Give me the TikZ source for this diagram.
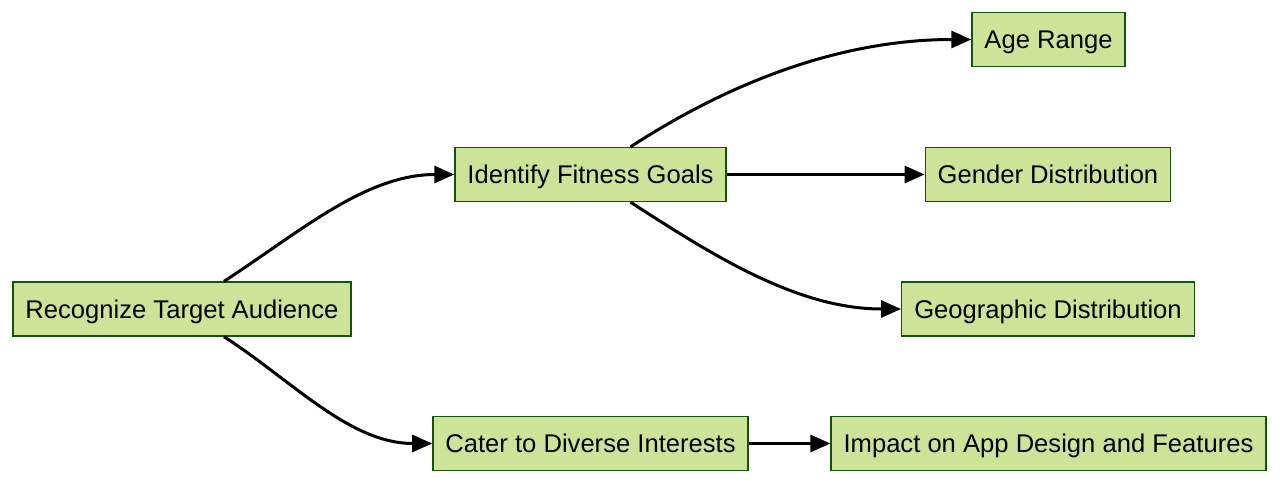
\documentclass[tikz,border=0pt]{standalone}
\usepackage{fontspec}
\setmainfont{Liberation Sans}
\usetikzlibrary{arrows.meta, calc, positioning}
\definecolor{boxfill}{HTML}{CDE498}
\definecolor{boxline}{HTML}{13540C}
\begin{document}
\begin{tikzpicture}[
    x=1pt, y=-1pt,
    topic/.style={draw=boxline, fill=boxfill, line width=1.3pt,
        minimum height=54pt, inner xsep=12.5pt, text height=21pt, text depth=3pt,
        font=\fontsize{25.6}{30}\selectfont},
    arrow/.style={-{Triangle[length=20pt,width=17pt]}, line width=3pt, black}
]
\useasboundingbox (0,0) rectangle (1280,484);
\node[topic] (audience) at (182,309) {Recognize Target Audience};
\node[topic] (goals) at (590.5,174.5) {Identify Fitness Goals};
\node[topic] (interests) at (590.5,443.5) {Cater to Diverse Interests};
\node[topic] (age) at (1048.5,39.5) {Age Range};
\node[topic] (gender) at (1048,174.5) {Gender Distribution};
\node[topic] (geo) at (1048,309) {Geographic Distribution};
\node[topic] (impact) at (1048.5,443.5) {Impact on App Design and Features};
\draw[arrow] ($(audience.north)+(42,0)$) to[out=33,in=180,looseness=0.9] (goals.west);
\draw[arrow] ($(audience.south)+(42,0)$) to[out=-33,in=180,looseness=0.9] (interests.west);
\draw[arrow] ($(goals.north)+(40,0)$) to[out=33,in=180,looseness=0.9] (age.west);
\draw[arrow] (goals) -- (gender);
\draw[arrow] ($(goals.south)+(40,0)$) to[out=-33,in=180,looseness=0.9] (geo.west);
\draw[arrow] (interests) -- (impact);
\end{tikzpicture}
\end{document}
